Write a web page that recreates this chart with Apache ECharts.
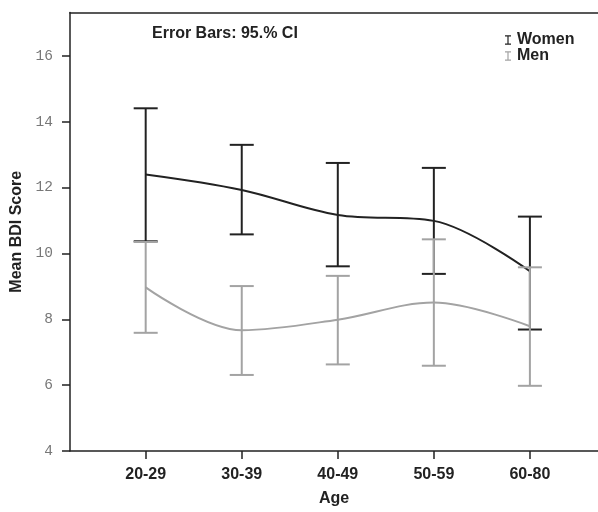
<!DOCTYPE html>
<html>
<head>
<meta charset="utf-8">
<script src="https://cdn.jsdelivr.net/npm/echarts@6/dist/echarts.min.js"></script>
<style>
html,body{margin:0;padding:0;background:#fff;}
#c{width:598px;height:512px;}
</style>
</head>
<body>
<div id="c"></div>
<script>
const categories = ['20-29', '30-39', '40-49', '50-59', '60-80'];
const womenMean = [12.40, 11.93, 11.17, 10.99, 9.46];
const womenLow  = [10.37, 10.58, 9.61, 9.38, 7.69];
const womenHigh = [14.41, 13.30, 12.75, 12.60, 11.12];
const menMean = [8.97, 7.67, 7.99, 8.51, 7.79];
const menLow  = [7.59, 6.31, 6.63, 6.59, 5.98];
const menHigh = [10.35, 9.01, 9.32, 10.43, 9.58];
const yTicks = [4, 6, 8, 10, 12, 14, 16];

const WOMEN = '#222222';
const MEN = '#a3a3a3';
const FONT = '"Liberation Sans", Arial, sans-serif';

const chart = echarts.init(document.getElementById('c'), null, {renderer: 'canvas'});

function errData(lo, hi) {
  return categories.map((c, i) => [i, lo[i], hi[i]]);
}
function errRender(color) {
  return function (params, api) {
    const x = api.value(0);
    const p1 = api.coord([x, api.value(1)]);
    const p2 = api.coord([x, api.value(2)]);
    const hw = 12;
    const st = {stroke: color, lineWidth: 2};
    return {
      type: 'group',
      children: [
        {type: 'line', shape: {x1: p1[0], y1: p1[1], x2: p2[0], y2: p2[1]}, style: st},
        {type: 'line', shape: {x1: p1[0] - hw, y1: p1[1], x2: p1[0] + hw, y2: p1[1]}, style: st},
        {type: 'line', shape: {x1: p2[0] - hw, y1: p2[1], x2: p2[0] + hw, y2: p2[1]}, style: st}
      ]
    };
  };
}

const iconPath = 'path://M0,0H7V1.5H4.2V9.5H7V11H0V9.5H2.8V1.5H0Z';

const option = {
  backgroundColor: '#fff',
  animation: false,
  grid: {left: 70, right: 0, top: 12.5, bottom: 56.5, containLabel: false},
  title: {
    text: 'Error Bars: 95.% CI',
    left: 147, top: 21,
    textStyle: {fontFamily: FONT, fontSize: 16, fontWeight: 'bold', color: '#222'}
  },
  legend: {
    orient: 'vertical',
    left: 500, top: 27,
    itemGap: 0, itemWidth: 6, itemHeight: 10,
    textStyle: {fontFamily: FONT, fontSize: 16, fontWeight: 'bold', color: '#222', padding: [0, 0, 0, 1], lineHeight: 15},
    data: [
      {name: 'Women', icon: iconPath, itemStyle: {color: WOMEN}},
      {name: 'Men', icon: iconPath, itemStyle: {color: MEN}}
    ]
  },
  xAxis: [{
    type: 'value',
    min: -0.788, max: 4.709,
    name: 'Age', nameLocation: 'middle', nameGap: 40,
    nameTextStyle: {fontFamily: FONT, fontSize: 16, fontWeight: 'bold', color: '#222'},
    axisLine: {show: true, onZero: false, lineStyle: {color: '#222', width: 1.5}},
    axisTick: {show: true, length: 8, customValues: [0, 1, 2, 3, 4], lineStyle: {color: '#222', width: 1.5}},
    axisLabel: {
      customValues: [0, 1, 2, 3, 4],
      formatter: v => categories[Math.round(v)],
      margin: 16,
      fontFamily: FONT, fontSize: 16, fontWeight: 'bold', color: '#222'
    },
    splitLine: {show: false}
  }, {
    type: 'value', position: 'top',
    min: -0.788, max: 4.709,
    axisLine: {show: true, onZero: false, lineStyle: {color: '#222', width: 1.5}},
    axisTick: {show: false}, axisLabel: {show: false}, splitLine: {show: false}
  }],
  yAxis: {
    type: 'value',
    min: 4, max: 17.32,
    name: 'Mean BDI Score', nameLocation: 'middle', nameGap: 42, nameRotate: 90,
    nameTextStyle: {fontFamily: FONT, fontSize: 16, fontWeight: 'bold', color: '#222'},
    axisLine: {show: true, onZero: false, lineStyle: {color: '#222', width: 1.5}},
    axisTick: {show: true, length: 8, customValues: yTicks, lineStyle: {color: '#222', width: 1.5}},
    axisLabel: {
      customValues: yTicks,
      margin: 17,
      fontFamily: '"Liberation Mono", "DejaVu Sans Mono", monospace', fontSize: 14.5, color: '#777'
    },
    splitLine: {show: false}
  },
  series: [
    {
      name: 'Women', type: 'custom', xAxisIndex: 0,
      renderItem: errRender(WOMEN), data: errData(womenLow, womenHigh),
      itemStyle: {color: WOMEN}, z: 3
    },
    {
      name: 'Women', type: 'line', xAxisIndex: 0,
      data: womenMean.map((v, i) => [i, v]),
      smooth: 0.35, showSymbol: false, symbol: 'none',
      lineStyle: {color: WOMEN, width: 2}, itemStyle: {color: WOMEN}, z: 3
    },
    {
      name: 'Men', type: 'custom', xAxisIndex: 0,
      renderItem: errRender(MEN), data: errData(menLow, menHigh),
      itemStyle: {color: MEN}, z: 4
    },
    {
      name: 'Men', type: 'line', xAxisIndex: 0,
      data: menMean.map((v, i) => [i, v]),
      smooth: 0.35, showSymbol: false, symbol: 'none',
      lineStyle: {color: MEN, width: 2}, itemStyle: {color: MEN}, z: 4
    }
  ]
};
chart.setOption(option);
</script>
</body>
</html>
